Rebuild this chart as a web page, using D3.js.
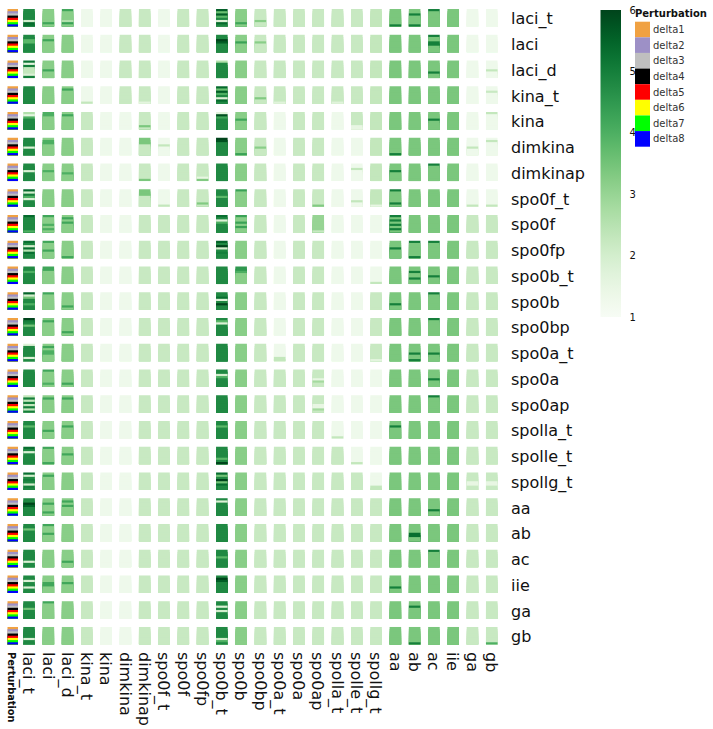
<!DOCTYPE html>
<html>
<head>
<meta charset="utf-8">
<script src="https://cdn.jsdelivr.net/npm/d3@7"></script>
<style>
  body { margin: 0; background: #fff; }
  text { font-family: "DejaVu Sans", sans-serif; }
</style>
</head>
<body>
<div id="chart"></div>
<script>
// genes used both as rows and as columns
const genes = ["laci_t", "laci", "laci_d", "kina_t", "kina", "dimkina", "dimkinap",
    "spo0f_t", "spo0f", "spo0fp", "spo0b_t", "spo0b", "spo0bp", "spo0a_t", "spo0a",
    "spo0ap", "spolla_t", "spolle_t", "spollg_t", "aa", "ab", "ac", "iie", "ga", "gb"];

const deltas = ["delta1", "delta2", "delta3", "delta4", "delta5", "delta6", "delta7", "delta8"];
const deltaColors = ["#f0a142", "#9d90c6", "#bfbfbf", "#000000", "#ff0000", "#ffff00", "#00ff00", "#0000ff"];

const colorTicks = [1, 2, 3, 4, 5, 6];

// typical value of each block (row = gene, column = gene)
const baseValues = [
    [4.8,3.2,3.2,1.3,1.3,2.2,2.2,1.3,2.2,2.2,4.8,3.2,2.2,2.2,2.2,2.2,2.2,2.2,2.3,3.4,3.4,3.4,3.4,1.3,1.3],
    [4.8,3.2,3.2,1.3,1.3,2.2,2.2,1.3,2.2,2.2,4.8,3.2,2.2,2.2,2.2,2.2,2.2,2.2,2.3,3.4,3.4,3.4,3.4,1.3,1.3],
    [2.3,3.2,3.2,1.3,1.3,2.2,2.2,1.3,2.2,2.2,4.8,3.2,2.2,2.2,2.2,2.2,2.2,2.2,2.3,3.4,3.4,3.4,3.4,1.3,1.3],
    [4.8,3.2,3.2,1.3,1.3,2.2,2.2,1.3,2.2,2.2,4.8,3.2,2.2,2.2,2.2,2.2,2.2,2.2,2.3,3.4,3.4,3.4,3.4,1.3,1.3],
    [4.8,3.2,3.2,2.2,1.3,1.3,2.2,1.3,2.2,2.2,4.8,3.2,2.2,1.3,2.2,2.2,1.3,2.2,2.3,3.4,3.4,3.4,3.4,1.3,1.3],
    [4.8,3.2,3.2,2.2,1.3,1.3,2.2,1.3,2.2,2.2,4.8,3.2,2.2,1.3,2.2,2.2,1.3,1.3,2.3,3.4,3.4,3.4,3.4,1.3,1.3],
    [4.8,3.2,3.2,2.2,1.3,1.3,2.2,1.3,2.2,2.2,4.8,3.2,2.2,1.3,2.2,2.2,1.3,1.3,2.3,3.4,3.4,3.4,3.4,1.3,1.3],
    [4.8,3.2,3.2,2.2,1.3,1.3,2.2,1.3,2.2,2.2,4.8,3.2,2.2,1.3,2.2,2.2,1.3,1.3,2.3,3.4,3.4,3.4,3.4,1.3,1.3],
    [4.8,3.2,3.2,2.2,1.3,1.3,2.2,2.2,2.2,2.2,4.8,3.2,2.2,1.3,2.2,3.0,1.3,1.3,1.3,3.4,3.4,3.4,3.4,2.2,2.2],
    [4.8,3.2,3.2,2.2,1.3,1.3,2.2,2.2,2.2,2.2,4.8,3.2,2.2,1.3,2.2,2.2,1.3,1.3,1.3,3.4,3.4,3.4,3.4,2.2,2.2],
    [4.8,3.2,3.2,2.2,1.3,1.3,2.2,2.2,2.2,2.2,4.8,3.2,2.2,1.3,2.2,2.2,1.3,1.3,1.3,3.4,3.4,3.4,3.4,2.2,2.2],
    [4.8,3.2,3.2,2.2,1.3,1.3,2.2,2.2,2.2,2.2,4.8,3.2,2.2,1.3,2.2,2.2,1.3,1.3,2.2,3.4,3.4,3.4,3.4,2.2,2.2],
    [4.8,3.2,3.2,2.2,1.3,1.3,2.2,2.2,2.2,2.2,4.8,3.2,2.2,1.3,2.2,2.2,1.3,1.3,2.2,3.4,3.4,3.4,3.4,2.2,2.2],
    [4.8,3.2,3.2,2.2,1.3,1.3,2.2,2.2,2.2,2.2,4.8,3.2,2.2,1.3,2.2,2.2,1.3,1.3,2.2,3.4,3.4,3.4,3.4,2.2,2.2],
    [4.8,3.2,3.2,2.2,1.3,1.3,2.2,2.2,2.2,2.2,4.8,3.2,2.2,2.2,2.2,2.2,1.3,1.3,1.3,3.4,3.4,3.4,3.4,2.2,2.2],
    [2.3,3.2,3.2,2.2,1.3,1.3,2.2,2.2,2.2,2.2,4.8,3.2,2.2,2.2,2.2,2.2,1.3,1.3,1.3,3.4,3.4,3.4,3.4,2.2,2.2],
    [4.8,3.2,3.2,2.2,1.3,1.3,2.2,2.2,2.2,2.2,4.8,3.2,2.2,2.2,2.2,2.2,1.3,1.3,1.3,3.4,3.4,3.4,3.4,2.2,2.2],
    [4.8,3.2,3.2,2.2,1.3,1.3,2.2,2.2,2.2,2.2,4.8,3.2,2.2,2.2,2.2,2.2,2.2,1.3,1.3,3.4,3.4,3.4,3.4,2.2,2.2],
    [4.8,3.2,3.2,2.2,1.3,1.3,2.2,2.2,2.2,2.2,4.8,3.2,2.2,2.2,2.2,2.2,2.2,2.2,1.3,3.4,3.4,3.4,3.4,2.2,2.2],
    [4.8,3.2,3.2,2.2,1.3,1.3,2.2,2.2,2.2,2.2,4.8,3.2,2.2,2.2,2.2,2.2,2.2,2.2,2.2,3.4,3.4,3.4,3.4,2.2,2.2],
    [4.8,3.2,3.2,2.2,1.3,1.3,2.2,2.2,2.2,2.2,4.8,3.2,2.2,2.2,2.2,2.2,2.2,2.2,2.2,3.4,3.4,3.4,3.4,2.2,2.2],
    [4.8,3.2,3.2,2.2,1.3,1.3,2.2,2.2,2.2,2.2,4.8,3.2,2.2,2.2,2.2,2.2,2.2,2.2,2.2,3.4,3.4,3.4,3.4,2.2,2.2],
    [4.8,3.2,3.2,2.2,1.3,1.3,2.2,2.2,2.2,2.2,4.8,3.2,2.2,2.2,2.2,2.2,2.2,2.2,2.2,3.4,3.4,3.4,3.4,2.2,2.2],
    [4.8,3.2,3.2,2.2,1.3,1.3,2.2,2.2,2.2,2.2,4.8,3.2,2.2,2.2,2.2,2.2,2.2,2.2,2.2,3.4,3.4,3.4,3.4,2.2,2.2],
    [4.8,3.2,3.2,2.2,1.3,1.3,2.2,2.2,2.2,2.2,4.8,3.2,2.2,2.2,2.2,2.2,2.2,2.2,2.2,3.4,3.4,3.4,3.4,2.2,2.2]
];

// stripes that differ from the block value: [row, column, delta (1-8), value]
const stripeValues = [
    [0,0,6,2.0],[0,0,7,5.4],[0,0,8,5.2],[0,1,7,4.2],[0,2,1,4.2],[0,2,6,2.6],[0,2,7,4.3],
    [0,10,1,5.6],[0,10,2,3.6],[0,10,3,5.6],[0,10,4,3.8],[0,10,6,1.8],[0,10,7,5.4],
    [0,11,7,4.2],[0,12,6,3.2],[0,19,8,5.0],[0,20,3,5.0],[0,20,8,5.0],[0,21,1,5.0],
    [1,0,3,3.8],[1,0,4,3.8],[1,1,3,4.2],[1,10,3,6.0],[1,10,4,5.6],[1,11,4,4.3],[1,12,4,3.2],
    [1,21,1,5.0],[1,21,4,5.0],[1,21,5,5.0],
    [2,0,1,5.2],[2,0,2,1.6],[2,0,3,5.0],[2,0,7,1.8],[2,0,8,5.0],[2,1,5,4.2],[2,10,1,2.6],
    [2,21,6,5.0],[2,24,5,2.3],
    [3,2,2,4.2],[3,3,8,2.3],[3,6,8,1.6],[3,10,1,5.4],[3,10,2,3.6],[3,10,3,5.6],[3,10,4,4.0],
    [3,10,6,1.8],[3,10,7,5.4],[3,12,6,3.3],[3,13,8,1.7],[3,16,8,1.7],[3,24,3,2.2],
    [4,0,1,2.6],[4,0,2,1.6],[4,0,3,4.0],[4,1,1,4.0],[4,1,2,4.0],[4,2,2,4.2],[4,6,7,3.4],
    [4,10,1,1.7],[4,10,2,5.8],[4,10,3,4.2],[4,11,4,4.2],[4,17,7,1.5],[4,17,8,1.5],
    [4,21,4,5.0],[4,24,1,2.3],
    [5,0,5,1.8],[5,1,2,4.0],[5,1,3,4.0],[5,6,1,3.4],[5,6,2,3.4],[5,6,3,3.4],[5,7,4,2.3],
    [5,10,1,6.0],[5,10,2,5.8],[5,11,8,4.3],[5,12,5,3.2],[5,19,8,5.0],[5,23,5,2.3],[5,24,2,2.3],
    [6,0,4,1.8],[6,1,4,4.0],[6,2,5,4.0],[6,6,8,3.4],[6,9,7,1.5],[6,9,8,3.3],[6,17,3,2.3],
    [6,19,4,5.0],[6,21,1,5.0],
    [7,0,1,5.4],[7,0,2,2.0],[7,0,3,5.0],[7,0,4,4.0],[7,0,5,1.8],[7,6,1,3.4],[7,6,2,3.4],
    [7,6,3,3.4],[7,7,8,2.3],[7,9,7,3.3],[7,10,4,3.8],[7,11,1,4.3],[7,15,8,3.3],[7,17,6,2.3],
    [7,18,8,1.5],[7,19,1,5.0],[7,19,7,5.0],[7,23,8,2.3],[7,24,8,2.3],
    [8,0,1,5.4],[8,0,8,4.0],[8,1,1,4.2],[8,1,5,4.0],[8,1,7,4.0],[8,2,2,4.2],[8,2,4,4.2],
    [8,10,1,5.3],[8,10,3,1.8],[8,10,4,4.0],[8,11,1,4.3],[8,11,4,4.3],[8,11,6,4.3],[8,15,8,2.2],
    [8,19,1,5.0],[8,19,3,5.0],[8,19,5,5.0],[8,19,7,5.0],
    [9,0,1,5.3],[9,0,3,2.0],[9,0,4,5.3],[9,0,5,2.5],[9,0,6,5.3],[9,1,1,4.2],[9,1,5,4.2],
    [9,2,8,4.2],[9,10,1,5.5],[9,10,3,6.0],[9,10,4,2.0],[9,10,6,5.0],[9,19,4,5.0],[9,20,1,5.0],
    [9,20,8,5.0],[9,21,1,5.0],
    [10,0,3,4.0],[10,1,1,4.2],[10,1,2,4.2],[10,11,1,4.5],[10,11,2,4.5],[10,11,3,4.0],
    [10,18,8,2.3],[10,20,3,5.0],[10,20,6,5.0],[10,21,5,5.0],
    [11,0,1,5.5],[11,0,2,2.0],[11,0,3,3.5],[11,0,6,4.0],[11,1,1,4.2],[11,2,7,4.2],
    [11,10,3,5.3],[11,10,4,1.8],[11,10,6,6.0],[11,19,6,5.0],[11,21,1,5.0],
    [12,0,1,6.0],[12,0,2,5.0],[12,0,4,3.5],[12,1,2,4.2],[12,2,7,4.2],[12,10,2,3.8],
    [12,10,3,1.8],[12,21,1,5.0],
    [13,0,1,1.8],[13,0,7,1.8],[13,1,2,4.2],[13,1,4,4.0],[13,1,5,4.0],[13,13,7,2.3],
    [13,13,8,2.3],[13,18,8,1.6],[13,20,5,5.0],[13,20,8,5.0],[13,21,5,5.0],
    [14,1,1,4.2],[14,1,7,4.0],[14,2,7,4.2],[14,10,3,2.0],[14,10,4,4.0],[14,15,5,1.5],
    [14,15,6,2.8],[14,21,5,5.0],
    [15,0,2,5.0],[15,0,4,5.0],[15,0,6,5.0],[15,0,8,5.0],[15,1,2,4.2],[15,2,2,4.2],
    [15,15,5,1.5],[15,15,6,1.5],[15,15,7,2.8],[15,21,1,5.0],
    [16,0,3,3.8],[16,1,5,4.2],[16,2,3,4.2],[16,10,3,3.8],[16,16,8,2.3],[16,19,3,5.0],
    [17,0,1,5.3],[17,0,3,1.8],[17,1,1,4.2],[17,1,8,4.2],[17,2,4,4.2],[17,10,6,3.8],
    [17,10,8,6.0],[17,17,8,2.3],
    [18,0,1,5.3],[18,0,2,2.0],[18,0,4,5.0],[18,0,6,2.0],[18,0,7,5.0],[18,1,2,4.2],
    [18,10,1,5.3],[18,10,2,3.5],[18,10,4,6.0],[18,10,5,3.5],[18,10,6,5.3],[18,18,7,2.3],
    [18,18,8,2.3],[18,23,5,1.5],[18,23,6,1.5],[18,24,5,1.5],[18,24,6,1.5],
    [19,0,3,6.0],[19,0,4,5.5],[19,1,3,4.2],[19,1,7,4.2],[19,2,2,4.2],[19,2,4,4.2],
    [19,10,2,1.8],[19,21,6,5.0],
    [20,0,3,3.5],[20,1,1,4.2],[20,1,5,4.2],[20,20,5,5.3],[20,20,6,5.3],
    [21,0,6,1.8],[21,2,6,4.2],[21,10,4,3.8],[21,21,1,5.0],
    [22,0,3,1.8],[22,0,6,1.8],[22,1,4,4.2],[22,1,5,4.2],[22,2,4,4.2],[22,10,2,6.0],
    [22,10,3,5.6],[22,19,6,5.0],
    [23,0,4,3.5],[23,1,1,4.2],[23,10,3,1.8],[23,10,5,2.0],[23,20,3,5.0],
    [24,0,6,1.8],[24,10,6,2.0],[24,10,7,4.0],[24,20,8,5.0],[24,24,8,4.0]
];

function main(){
    let width = 713;
    let height = 729;

    let svg = d3.select("#chart").append("svg")
        .attr("width", width)
        .attr("height", height);

    const overrides = new Map();
    stripeValues.forEach(function(s){
        overrides.set(s[0] + "-" + s[1] + "-" + (s[2] - 1), s[3]);
    });

    let cells = [];
    genes.forEach(function(rowGene, r){
        genes.forEach(function(colGene, c){
            deltas.forEach(function(delta, d){
                let key = r + "-" + c + "-" + d;
                let v = overrides.has(key) ? overrides.get(key) : baseValues[r][c];
                cells.push({row: rowGene, col: colGene, delta: delta, value: v});
            });
        });
    });

    let x = d3.scaleBand().domain(genes).range([19.4, 501.4])
        .paddingInner(0.4).paddingOuter(0.2);
    let y = d3.scaleBand().domain(genes).range([4.9, 648.6])
        .paddingInner(0.32).paddingOuter(0.16);
    let ySub = d3.scaleBand().domain(deltas).range([0, y.bandwidth()]);
    let xAnn = d3.scaleBand().domain(["Perturbation"]).range([7.5, 18]);

    let colorScale = d3.scaleSequential(d3.interpolateGreens).domain([1, 6]);
    let annColor = d3.scaleOrdinal().domain(deltas).range(deltaColors);

    // each stripe runs to the bottom of its block and the next one paints over it,
    // so no white seams show between stripes
    function stripeHeight(d){
        return y.bandwidth() - ySub(d.delta);
    }

    // heatmap stripes
    svg.append("g")
        .selectAll("rect")
        .data(cells)
        .enter()
        .append("rect")
        .attr("x", function(d){ return x(d.col); })
        .attr("y", function(d){ return y(d.row) + ySub(d.delta); })
        .attr("width", x.bandwidth())
        .attr("height", stripeHeight)
        .style("fill", function(d){ return colorScale(d.value); });

    // perturbation annotation column
    let annCells = [];
    genes.forEach(function(g){
        deltas.forEach(function(delta){ annCells.push({row: g, delta: delta}); });
    });
    svg.append("g")
        .selectAll("rect")
        .data(annCells)
        .enter()
        .append("rect")
        .attr("x", xAnn("Perturbation"))
        .attr("y", function(d){ return y(d.row) + ySub(d.delta); })
        .attr("width", xAnn.bandwidth())
        .attr("height", stripeHeight)
        .style("fill", function(d){ return annColor(d.delta); });

    // row labels
    svg.append("g")
        .selectAll("text")
        .data(genes)
        .enter()
        .append("text")
        .attr("x", 511)
        .attr("y", function(d){ return y(d) + y.bandwidth() / 2; })
        .attr("dy", "0.42em")
        .attr("font-size", 16)
        .attr("fill", "#111")
        .text(function(d){ return d; });

    // column labels
    svg.append("g")
        .selectAll("text")
        .data(genes)
        .enter()
        .append("text")
        .attr("transform", function(d){
            return "translate(" + (x(d) + x.bandwidth() / 2) + ", 652) rotate(90)";
        })
        .attr("dy", "0.36em")
        .attr("font-size", 16)
        .attr("fill", "#111")
        .text(function(d){ return d; });

    svg.append("text")
        .attr("transform", "translate(" + (xAnn("Perturbation") + xAnn.bandwidth() / 2) + ", 652) rotate(90)")
        .attr("dy", "0.5em")
        .attr("font-size", 9.8)
        .attr("font-weight", "bold")
        .attr("fill", "#111")
        .text("Perturbation");

    // colorbar
    let cbY = d3.scaleLinear().domain([1, 6]).range([317, 10]);
    let grad = svg.append("defs").append("linearGradient")
        .attr("id", "greens")
        .attr("x1", "0").attr("y1", "1").attr("x2", "0").attr("y2", "0");
    d3.range(0, 1.0001, 0.05).forEach(function(t){
        grad.append("stop")
            .attr("offset", t)
            .attr("stop-color", d3.interpolateGreens(t));
    });
    svg.append("rect")
        .attr("x", 600.5)
        .attr("y", cbY(6))
        .attr("width", 20.5)
        .attr("height", cbY(1) - cbY(6))
        .style("fill", "url(#greens)");

    svg.append("g")
        .selectAll("text")
        .data(colorTicks)
        .enter()
        .append("text")
        .attr("x", 629.5)
        .attr("y", function(d){ return cbY(d); })
        .attr("dy", "0.35em")
        .attr("font-size", 10)
        .attr("fill", "#111")
        .text(function(d){ return d; });

    // perturbation legend
    let legend = svg.append("g").attr("transform", "translate(635, 0)");
    legend.append("text")
        .attr("x", 0)
        .attr("y", 17)
        .attr("font-size", 10)
        .attr("font-weight", "bold")
        .attr("fill", "#111")
        .text("Perturbation");
    let legY = d3.scaleBand().domain(deltas).range([21.7, 146.7]);
    legend.selectAll("rect")
        .data(deltas)
        .enter()
        .append("rect")
        .attr("x", 0)
        .attr("y", function(d){ return legY(d); })
        .attr("width", 15)
        .attr("height", legY.bandwidth())
        .style("fill", function(d){ return annColor(d); });
    legend.selectAll(".lab")
        .data(deltas)
        .enter()
        .append("text")
        .attr("class", "lab")
        .attr("x", 18)
        .attr("y", function(d){ return legY(d) + legY.bandwidth() / 2; })
        .attr("dy", "0.35em")
        .attr("font-size", 10)
        .attr("fill", "#333")
        .text(function(d){ return d; });
}

main();
</script>
</body>
</html>
